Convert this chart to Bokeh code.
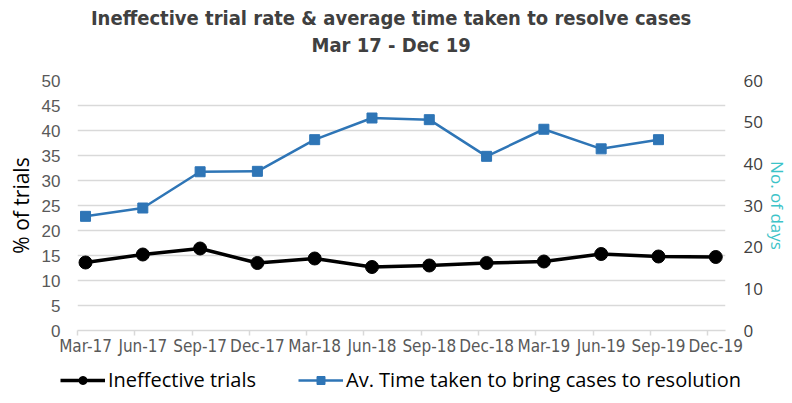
from bokeh.plotting import figure
from bokeh.layouts import column, row
from bokeh.models import (ColumnDataSource, LinearAxis, Range1d, FixedTicker,
                          Legend, LegendItem, Label)
from bokeh.embed import file_html
from bokeh.resources import INLINE

# ---- data ----
quarters = ["Mar-17", "Jun-17", "Sep-17", "Dec-17", "Mar-18", "Jun-18",
            "Sep-18", "Dec-18", "Mar-19", "Jun-19", "Sep-19", "Dec-19"]
ineffective_pct = [13.6, 15.2, 16.4, 13.5, 14.4, 12.7, 13.0, 13.5, 13.8, 15.3, 14.8, 14.7]
days_to_resolution = [27.4, 29.4, 38.1, 38.2, 45.8, 51.0, 50.6, 41.8, 48.3, 43.6, 45.8, float("nan")]
left_ticks = [0, 5, 10, 15, 20, 25, 30, 35, 40, 45, 50]
right_ticks = [0, 10, 20, 30, 40, 50, 60]
series_labels = ["Ineffective trials", "Av. Time taken to bring cases to resolution"]
title_lines = ["Ineffective trial rate & average time taken to resolve cases", "Mar 17 - Dec 19"]

idx = list(range(len(quarters)))
src = ColumnDataSource(dict(x=idx, pct=ineffective_pct, days=days_to_resolution))

NARROW = "'Liberation Sans Narrow', 'Arial Narrow', 'DejaVu Sans Condensed', sans-serif"
GRID = "#d9d9d9"
BLUE = "#2e75b6"
W = 792

# ---- header strip with the two title lines ----
hd = figure(width=W, height=70, output_backend="svg", toolbar_location=None,
            x_range=Range1d(0, 1), y_range=Range1d(0, 70),
            x_axis_location=None, y_axis_location=None,
            min_border_left=0, min_border_right=0, min_border_top=0, min_border_bottom=0)
hd.outline_line_color = None
hd.grid.visible = False
for txt, yy in zip(title_lines, [53, 26]):
    hd.add_layout(Label(x=0.484, y=yy, text=txt, text_align="center",
                        text_baseline="middle", text_font=NARROW,
                        text_font_size="20px", text_font_style="bold",
                        text_color="#404040"))

# ---- main chart ----
p = figure(width=W, height=290, output_backend="svg", toolbar_location=None,
           x_range=Range1d(-0.14, 11.17), y_range=Range1d(0, 50),
           min_border_left=77, min_border_right=67, min_border_top=10,
           min_border_bottom=30)
p.outline_line_color = None
p.background_fill_color = "white"
p.border_fill_color = "white"
p.extra_y_ranges = {"days": Range1d(0, 60)}

xa = p.xaxis[0]
xa.ticker = FixedTicker(ticks=idx, minor_ticks=[i - 0.14 for i in idx])
xa.major_label_overrides = {i: q for i, q in zip(idx, quarters)}
xa.major_tick_line_color = None
xa.major_tick_out = 0
xa.major_tick_in = 0
xa.minor_tick_line_color = GRID
xa.minor_tick_out = 5
xa.minor_tick_in = 0
xa.minor_tick_line_width = 1.5
xa.axis_line_color = GRID
xa.axis_line_width = 1.5
xa.major_label_text_font = NARROW
xa.major_label_text_font_size = "17px"
xa.major_label_text_color = "#595959"
xa.major_label_standoff = 0

ya = p.yaxis[0]
ya.ticker = FixedTicker(ticks=left_ticks)
ya.axis_line_color = None
ya.major_tick_line_color = None
ya.major_tick_out = 0
ya.minor_tick_line_color = None
ya.major_label_text_font = "Liberation Sans"
ya.major_label_text_font_size = "17px"
ya.major_label_text_color = "#595959"
ya.major_label_standoff = 17
ya.axis_label = "% of trials"
ya.axis_label_text_font = "Open Sans"
ya.axis_label_text_font_size = "21px"
ya.axis_label_text_font_style = "normal"
ya.axis_label_text_color = "#000000"
ya.axis_label_standoff = 4

ra = LinearAxis(y_range_name="days", ticker=FixedTicker(ticks=right_ticks))
ra.axis_line_color = None
ra.major_tick_line_color = None
ra.major_tick_out = 0
ra.minor_tick_line_color = None
ra.major_label_text_font = "Open Sans"
ra.major_label_text_font_size = "17px"
ra.major_label_text_color = "#404040"
ra.major_label_standoff = 18
ra.axis_label = "No. of days"
ra.axis_label_text_font = "Open Sans"
ra.axis_label_text_font_size = "17px"
ra.axis_label_text_font_style = "normal"
ra.axis_label_text_color = "#3cc3c8"
ra.axis_label_standoff = 0
p.add_layout(ra, "right")

p.xgrid.grid_line_color = None
p.ygrid.grid_line_color = GRID
p.ygrid.grid_line_width = 1.5

p.line("x", "pct", source=src, line_color="black", line_width=3.5)
p.scatter("x", "pct", source=src, marker="circle", size=13,
          fill_color="black", line_color="black")
p.line("x", "days", source=src, y_range_name="days", line_color=BLUE, line_width=2.5)
p.scatter("x", "days", source=src, y_range_name="days", marker="square",
          size=10, fill_color=BLUE, line_color=BLUE)

# ---- legend strip (same glyphs, out of view, used only for the legend) ----
lg = figure(width=W, height=35, output_backend="svg", toolbar_location=None,
            x_range=Range1d(-100, -99), y_range=Range1d(-100, -99),
            x_axis_location=None, y_axis_location=None,
            min_border_left=0, min_border_right=0, min_border_top=0, min_border_bottom=0)
lg.outline_line_color = None
lg.grid.visible = False
a1 = lg.line("x", "pct", source=src, line_color="black", line_width=3.5)
b1 = lg.scatter("x", "pct", source=src, marker="circle", size=11,
                fill_color="black", line_color="black")
a2 = lg.line("x", "days", source=src, line_color=BLUE, line_width=2.5)
b2 = lg.scatter("x", "days", source=src, marker="square", size=9,
                fill_color=BLUE, line_color=BLUE)
legend = Legend(items=[LegendItem(label=series_labels[0], renderers=[a1, b1]),
                       LegendItem(label=series_labels[1], renderers=[a2, b2])],
                orientation="horizontal", location=(60, 2),
                label_text_font="Open Sans", label_text_font_size="20px",
                label_text_color="#000000", glyph_width=45, glyph_height=20,
                label_standoff=3, spacing=42, padding=0, margin=0,
                border_line_color=None, background_fill_alpha=0)
lg.add_layout(legend)

layout = column(hd, p, row(lg), spacing=0)
open("out.html", "w").write(file_html(layout, INLINE))
